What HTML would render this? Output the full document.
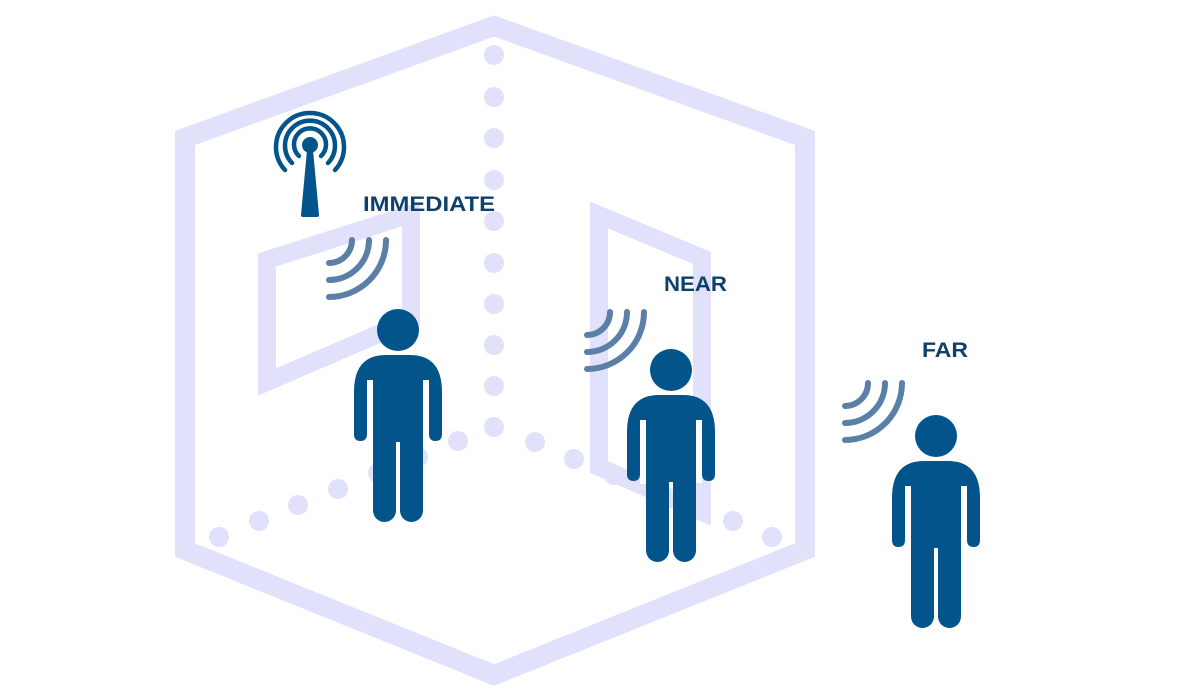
<!DOCTYPE html>
<html><head><meta charset="utf-8"><style>
html,body{margin:0;padding:0;background:#fff;}
svg{display:block;}
text{font-family:"Liberation Sans",sans-serif;font-weight:bold;fill:#0d406b;}
</style></head><body>
<svg width="1200" height="700" viewBox="0 0 1200 700">
<defs>
<g id="person">
  <circle cx="0" cy="0" r="21" fill="#02548a"/>
  <path d="M-44 104 L-44 62 Q-44 25 -12 25 L12 25 Q44 25 44 62 L44 104 Q44 111 37.5 111 Q31 111 31 104 L31 112 L-31 112 L-31 104 Q-31 111 -37.5 111 Q-44 111 -44 104 Z" fill="#02548a"/>
  <rect x="-31" y="50" width="6" height="63" fill="#fff"/>
  <rect x="25" y="50" width="6" height="63" fill="#fff"/>
  <rect x="-31" y="104" width="6" height="10" fill="#fff"/>
  <g fill="#02548a">
  <rect x="-25" y="95" width="23" height="97" rx="11.5"/>
  <rect x="2" y="95" width="23" height="97" rx="11.5"/>
  <rect x="-25" y="95" width="23" height="80"/>
  <rect x="2" y="95" width="23" height="80"/>
  </g>
</g>
<g id="waves" fill="none" stroke="#5a80a8" stroke-width="6" stroke-linecap="round">
  <path d="M0 23 A23 23 0 0 0 23 0"/>
  <path d="M0 40 A40 40 0 0 0 40 0"/>
  <path d="M0 57 A57 57 0 0 0 57 0"/>
</g>
</defs>
<polygon points="494,26 185,138 185,550 494,675 805,550 805,138" fill="none" stroke="#e1e1fc" stroke-width="20"/>
<polygon points="267,260 411,214 411,320 267,382" fill="none" stroke="#e1e1fc" stroke-width="18"/>
<polygon points="599,215 702,258 702,512 599,467" fill="none" stroke="#e1e1fc" stroke-width="18"/>
<g fill="#e1e1fc">
<circle cx="494" cy="55" r="10"/><circle cx="494" cy="97" r="10"/><circle cx="494" cy="138" r="10"/>
<circle cx="494" cy="180" r="10"/><circle cx="494" cy="221" r="10"/><circle cx="494" cy="263" r="10"/>
<circle cx="494" cy="304" r="10"/><circle cx="494" cy="345" r="10"/><circle cx="494" cy="386" r="10"/>
<circle cx="494" cy="427" r="10"/>
<circle cx="219" cy="537" r="10"/><circle cx="259" cy="521" r="10"/><circle cx="298" cy="505" r="10"/>
<circle cx="338" cy="489" r="10"/><circle cx="378" cy="473" r="10"/><circle cx="418" cy="457" r="10"/>
<circle cx="458" cy="441" r="10"/>
<circle cx="535" cy="442" r="10"/><circle cx="574" cy="459" r="10"/><circle cx="614" cy="475" r="10"/>
<circle cx="654" cy="491" r="10"/><circle cx="693" cy="505" r="10"/>
<circle cx="733" cy="521" r="10"/><circle cx="772" cy="537" r="10"/>
</g>
<g fill="none" stroke="#02548a" stroke-width="4.5" stroke-linecap="round">
  <path d="M299 156 A16 16 0 1 1 321 156"/>
  <path d="M292 163 A25 25 0 1 1 328 163"/>
  <path d="M285 170 A34 34 0 1 1 335 170"/>
</g>
<circle cx="310" cy="145" r="8" fill="#02548a"/>
<path d="M307 150 L313 150 L319 215 Q319 217 317 217 L303 217 Q301 217 301 215 Z" fill="#02548a"/>
<use href="#waves" x="329" y="240"/>
<use href="#waves" x="587" y="312"/>
<use href="#waves" x="845" y="383"/>
<use href="#person" x="398" y="330"/>
<use href="#person" x="671" y="370"/>
<use href="#person" x="936" y="436"/>
<text x="363" y="211" font-size="21" textLength="132" lengthAdjust="spacingAndGlyphs">IMMEDIATE</text>
<text x="664" y="291" font-size="21" textLength="63" lengthAdjust="spacingAndGlyphs">NEAR</text>
<text x="922" y="357" font-size="21" textLength="46" lengthAdjust="spacingAndGlyphs">FAR</text>
</svg>
</body></html>
